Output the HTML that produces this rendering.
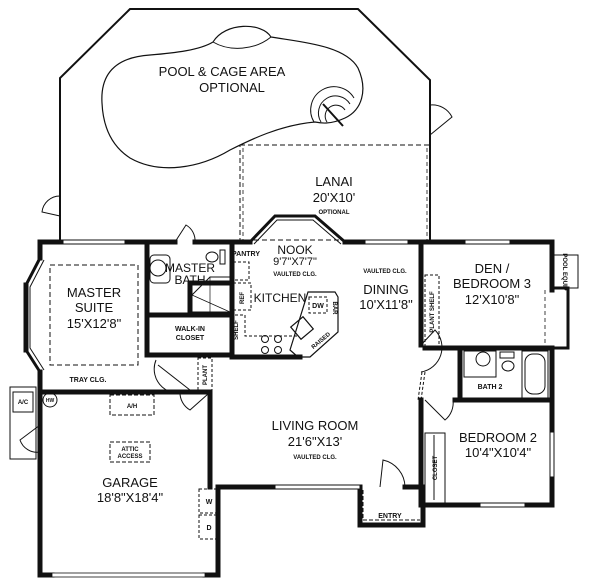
<!DOCTYPE html>
<html><head><style>
html,body{margin:0;padding:0;background:#fff}
svg{display:block}
text{font-family:"Liberation Sans",sans-serif;fill:#111;text-anchor:middle}
.b{font-size:13px}
.s{font-size:6px;font-weight:bold}
.m{font-size:7px;font-weight:bold}
</style></head><body>
<svg width="600" height="587" viewBox="0 0 600 587" xmlns="http://www.w3.org/2000/svg">
<g fill="none" stroke="#111">
<!-- cage -->
<polyline points="60,240 60,78 130,9 358,9 430,80 430,240" stroke-width="2"/>
<path d="M60,196 A18,18 0 0 0 42,212 L60,216" stroke-width="1"/>
<path d="M430,105 A22,22 0 0 1 452,117 L430,135" stroke-width="1"/>
<!-- pool -->
<path d="M102,103 C100,70 120,57 150,55 C175,53 200,50 213,42 C225,22 262,22 271,37 C300,42 345,45 358,68 C368,90 362,110 345,118 C330,125 320,123 315,122 C280,125 250,140 230,150 C200,168 160,175 130,158 C110,145 103,125 102,103 Z" stroke-width="1.2"/>
<path d="M213,42 C230,52 255,50 271,37" stroke-width="1"/>
<path d="M314,122 A22,22 0 0 1 354,98" stroke-width="1"/>
<path d="M321,122 A16,16 0 0 1 350,104" stroke-width="1"/>
<path d="M327,122 A10,10 0 0 1 345,110" stroke-width="1"/>
<line x1="323" y1="104" x2="343" y2="126" stroke-width="2"/>
<!-- lanai -->
<rect x="240" y="145" width="190" height="95" stroke-width="1" stroke-dasharray="5,3"/>
<line x1="243" y1="148" x2="243" y2="240" stroke-width="0.8" stroke-dasharray="4,3"/>
<line x1="427" y1="148" x2="427" y2="240" stroke-width="0.8" stroke-dasharray="4,3"/>
</g>
<g fill="none" stroke="#111" stroke-width="5" stroke-linecap="square">
<polyline points="63,242 40,242 40,258"/>
<line x1="125" y1="242" x2="175" y2="242"/>
<line x1="195" y1="242" x2="250" y2="242"/>
<polyline points="345,242 365,242"/>
<polyline points="408,242 552,242 552,290"/>
<polyline points="552,348 552,505 425,505"/>
<line x1="26" y1="285" x2="26" y2="350" />
<polyline points="40,372 40,575 52,575"/>
<line x1="205" y1="575" x2="218" y2="575"/>
<polyline points="218,575 218,487 360,487"/>
<polyline points="40,392 210,392 210,487"/>
<line x1="421" y1="242" x2="421" y2="345"/>
<line x1="421" y1="400" x2="421" y2="505"/>
<polyline points="360,487 360,525 423,525 423,487 405,487"/>
<polyline points="425,348 552,348"/>
<line x1="460" y1="350" x2="460" y2="398"/>
<polyline points="455,400 552,400"/>
<line x1="147" y1="245" x2="147" y2="355"/>
<line x1="147" y1="355" x2="232" y2="355"/>
<line x1="232" y1="245" x2="232" y2="355"/>
<line x1="150" y1="315" x2="230" y2="315"/>
<line x1="190" y1="283" x2="230" y2="283"/>
<line x1="190" y1="283" x2="190" y2="312"/>
<line x1="232" y1="357" x2="300" y2="357"/>
</g>
<g fill="none" stroke="#111">
<polyline points="40,258 26,285 26,350 40,372" stroke-width="3"/>
<polyline points="44,260 30,287 30,348 44,370" stroke-width="1"/>
<polyline points="250,242 275,216 315,216 345,242" stroke-width="3"/>
<polyline points="254,244 277,220 313,220 341,244" stroke-width="1"/>
<rect x="63" y="240" width="62" height="4" stroke-width="1" fill="#fff"/>
<rect x="365" y="240" width="43" height="4" stroke-width="1" fill="#fff"/>
<rect x="465" y="240" width="45" height="4" stroke-width="1" fill="#fff"/>
<rect x="275" y="485" width="85" height="4" stroke-width="1" fill="#fff"/>
<rect x="480" y="503" width="45" height="4" stroke-width="1" fill="#fff"/>
<rect x="550" y="432" width="4" height="45" stroke-width="1" fill="#fff"/>
<rect x="52" y="573" width="153" height="4" stroke-width="0.8" fill="#fff"/>
<path d="M175,242 L186,225 A18,18 0 0 1 195,242" stroke-width="1"/>
<path d="M156,360 A24,24 0 0 0 190,390 L158,365" stroke-width="1"/>
<path d="M180,392 A20,20 0 0 0 190,410 L208,394" stroke-width="1"/>
<path d="M40,425 L20,440 A18,18 0 0 0 40,452" stroke-width="1"/>
<path d="M380,487 L383,460 A28,28 0 0 1 405,487" stroke-width="1"/>
<path d="M421,345 L435,330 A25,25 0 0 1 421,372" stroke-width="1"/>
<path d="M425,400 L445,420 A22,22 0 0 0 453,400" stroke-width="1"/>
<line x1="422" y1="372" x2="418" y2="400" stroke-width="1" stroke-dasharray="3,2"/>
<line x1="425" y1="372" x2="421" y2="400" stroke-width="1" stroke-dasharray="3,2"/>
<rect x="10" y="387" width="26" height="72" stroke-width="1"/>
<rect x="13" y="392" width="20" height="20" stroke-width="1"/>
<circle cx="50" cy="400" r="7" stroke-width="1"/>
<rect x="110" y="395" width="44" height="20" stroke-width="1" stroke-dasharray="4,2"/>
<rect x="110" y="442" width="40" height="20" stroke-width="1" stroke-dasharray="4,2"/>
<rect x="199" y="489" width="20" height="24" stroke-width="1" stroke-dasharray="3,2"/>
<rect x="199" y="515" width="20" height="24" stroke-width="1" stroke-dasharray="3,2"/>
<rect x="50" y="265" width="88" height="100" stroke-width="1" stroke-dasharray="5,3"/>
<circle cx="158" cy="268" r="8" stroke-width="1"/>
<rect x="150" y="255" width="20" height="28" rx="4" stroke-width="1"/>
<ellipse cx="212" cy="257" rx="6" ry="5" stroke-width="1"/>
<rect x="220" y="250" width="5" height="14" stroke-width="1"/>
<polygon points="210,277 230,277 230,312 192,312 192,295" stroke-width="1"/>
<line x1="192" y1="295" x2="230" y2="312" stroke-width="0.7"/>
<line x1="210" y1="277" x2="210" y2="312" stroke-width="0.7"/>
<rect x="198" y="358" width="14" height="32" stroke-width="1" stroke-dasharray="3,2"/>
<rect x="233" y="262" width="16" height="18" stroke-width="1" stroke-dasharray="3,2"/>
<rect x="233" y="283" width="18" height="27" stroke-width="1" stroke-dasharray="3,2"/>
<polyline points="235,315 245,315 245,336 260,336 298,336" stroke-width="1" stroke-dasharray="3,2"/>
<circle cx="265" cy="339" r="3.5" stroke-width="1"/><circle cx="278" cy="339" r="3.5" stroke-width="1"/>
<circle cx="265" cy="350" r="3.5" stroke-width="1"/><circle cx="278" cy="350" r="3.5" stroke-width="1"/>
<polygon points="308,292 335,292 338,297 338,332 310,357 298,357 290,350" stroke-width="1.2"/>
<rect x="309" y="297" width="18" height="16" stroke-width="1" stroke-dasharray="3,2"/>
<rect x="294" y="320" width="16" height="16" transform="rotate(-40 302 328)" stroke-width="1.2"/>
<rect x="425" y="275" width="14" height="72" stroke-width="1" stroke-dasharray="3,2"/>
<polyline points="552,288 568,288 568,348 552,348" stroke-width="3"/>
<line x1="545" y1="290" x2="545" y2="345" stroke-width="0.8" stroke-dasharray="4,3"/>
<rect x="552" y="255" width="26" height="33" stroke-width="1"/>
<rect x="464" y="351" width="32" height="26" stroke-width="1"/>
<circle cx="483" cy="359" r="7" stroke-width="1"/>
<rect x="500" y="352" width="14" height="6" stroke-width="1"/>
<ellipse cx="508" cy="366" rx="6" ry="5" stroke-width="1"/>
<rect x="522" y="351" width="26" height="47" stroke-width="1"/>
<rect x="525" y="354" width="20" height="40" rx="8" stroke-width="1"/>
<rect x="425" y="433" width="20" height="70" stroke-width="1"/>
<line x1="434" y1="435" x2="434" y2="500" stroke-width="1"/>
<polyline points="363,490 363,520 420,520" stroke-width="1" stroke-dasharray="4,2"/>
</g>
<text class="b" x="222" y="76">POOL &amp; CAGE AREA</text>
<text class="b" x="232" y="92">OPTIONAL</text>
<text class="b" x="334" y="186">LANAI</text>
<text class="b" x="334" y="202" style="font-size:13px">20'X10'</text>
<text class="s" x="334" y="214">OPTIONAL</text>
<text class="b" x="94" y="297">MASTER</text>
<text class="b" x="94" y="312">SUITE</text>
<text class="b" x="94" y="328">15'X12'8"</text>
<text class="m" x="88" y="382">TRAY CLG.</text>
<text class="b" x="190" y="272" style="font-size:12px">MASTER</text>
<text class="b" x="190" y="284" style="font-size:12px">BATH</text>
<text class="m" x="190" y="331">WALK-IN</text>
<text class="m" x="190" y="340">CLOSET</text>
<text class="m" x="246" y="256">PANTRY</text>
<text class="b" x="295" y="254" style="font-size:12px">NOOK</text>
<text class="b" x="295" y="265" style="font-size:11px">9'7"X7'7"</text>
<text class="s" x="295" y="276">VAULTED CLG.</text>
<text class="b" x="280" y="302" style="font-size:12px">KITCHEN</text>
<text class="m" x="318" y="308">DW</text>
<text class="s" x="385" y="273">VAULTED CLG.</text>
<text class="b" x="386" y="294">DINING</text>
<text class="b" x="386" y="309">10'X11'8"</text>
<text class="b" x="492" y="273">DEN /</text>
<text class="b" x="492" y="288">BEDROOM 3</text>
<text class="b" x="492" y="304">12'X10'8"</text>
<text class="m" x="490" y="389">BATH 2</text>
<text class="b" x="315" y="430">LIVING ROOM</text>
<text class="b" x="315" y="446">21'6"X13'</text>
<text class="s" x="315" y="459">VAULTED CLG.</text>
<text class="b" x="498" y="442">BEDROOM 2</text>
<text class="b" x="498" y="457">10'4"X10'4"</text>
<text class="m" x="390" y="518">ENTRY</text>
<text class="b" x="130" y="487">GARAGE</text>
<text class="b" x="130" y="502">18'8"X18'4"</text>
<text class="s" x="132" y="408">A/H</text>
<text class="s" x="130" y="451">ATTIC</text>
<text class="s" x="130" y="458">ACCESS</text>
<text class="s" x="23" y="404">A/C</text>
<text class="s" x="50" y="402" style="font-size:5px">HW</text>
<text class="m" x="209" y="504">W</text>
<text class="m" x="209" y="530">D</text>
<text class="s" transform="translate(244,298) rotate(-90)">REF</text>
<text class="s" transform="translate(238,330) rotate(-90)">SHELF</text>
<text class="s" transform="translate(207,375) rotate(-90)">PLANT</text>
<text class="s" transform="translate(434,312) rotate(-90)">PLANT SHELF</text>
<text class="s" transform="translate(437,468) rotate(-90)">CLOSET</text>
<text class="s" transform="translate(333,308) rotate(90)">BAR</text>
<text class="s" transform="translate(322,342) rotate(-40)">RAISED</text>
<text class="s" transform="translate(563,272) rotate(90)">POOL EQUIP</text>
</svg>
</body></html>
